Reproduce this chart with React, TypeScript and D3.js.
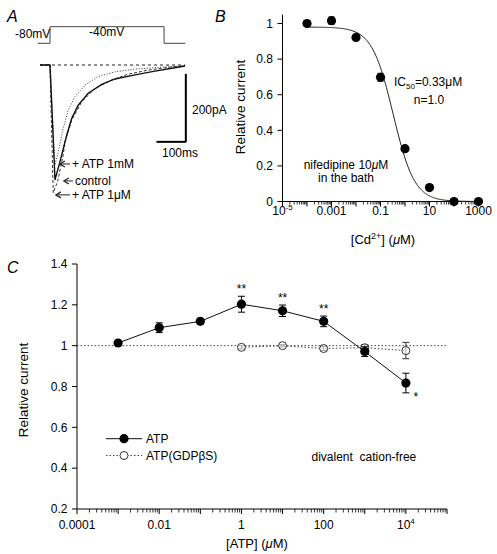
import React from 'react';
import * as d3 from 'd3';

const FONT = '"Liberation Sans", Arial, Helvetica, sans-serif';

// ---------- Panel A: voltage protocol and current traces (time ms, current pA) ----------
const protocol: [number, number][] = [[-42, -80], [0, -80], [0, -40], [388, -40], [388, -80], [460, -80]];
const traceControl: [number, number][] = [[-34, 0], [0, 0], [17, -338], [34, -284], [57, -206], [74, -157], [96, -118], [130, -83], [176, -57], [221, -41], [289, -29], [357, -18], [425, -8], [459, -3]];
const traceAtp1uM: [number, number][] = [[-34, 0], [0, 0], [11, -376], [26, -342], [45, -265], [51, -226], [74, -162], [108, -108], [153, -69], [210, -44], [266, -27], [334, -15], [402, -7], [459, -2]];
const traceAtp1mM: [number, number][] = [[-34, 0], [0, 0], [17, -294], [28, -255], [45, -186], [62, -132], [85, -93], [119, -59], [164, -34], [221, -20], [289, -12], [357, -8], [459, -2]];
const traceLabels = ['+ ATP 1mM', 'control', '+ ATP 1\u03bcM'];

// ---------- Panel B: Cd2+ dose-response ----------
const cdConc = [1e-4, 1e-3, 1e-2, 1e-1, 1, 10, 100, 1000];
const cdCurrent = [1.0, 1.016, 0.922, 0.698, 0.297, 0.078, 0, 0];
const cdErr = [0.008, 0.02, 0.01, 0.022, 0.012, 0.008, 0, 0];
const hillTop = 0.98;
const hillIC50 = 0.33;
const hillN = 1.0;
const cdXTicks = [1e-5, 1e-3, 1e-1, 10, 1000];
const cdYTicks = [0, 0.2, 0.4, 0.6, 0.8, 1];

// ---------- Panel C: ATP ----------
const atpConc = [1e-3, 1e-2, 1e-1, 1, 10, 100, 1e3, 1e4];
const atpCurrent = [1.013, 1.088, 1.119, 1.203, 1.171, 1.119, 0.971, 0.817];
const atpErr = [0.008, 0.024, 0.01, 0.039, 0.028, 0.026, 0.024, 0.048];
const atpSig = ['', '', '', '**', '**', '**', '', '*'];
const gdpConc = [1, 10, 100, 1e3, 1e4];
const gdpCurrent = [0.992, 1.0, 0.986, 0.99, 0.976];
const gdpErr = [0.008, 0.006, 0.01, 0.015, 0.04];
const atpXTicks = [1e-4, 1e-2, 1, 100, 1e4];
const atpYTicks = [0.2, 0.4, 0.6, 0.8, 1, 1.2, 1.4];

function minorTicks(lo: number, hi: number) {
  const out: number[] = [];
  for (let d = lo; d < hi; d++) for (let m = 2; m <= 9; m++) out.push(m * Math.pow(10, d));
  return out;
}

function fmtY(v: number) {
  return String(+v.toFixed(1));
}

function logLabel(v: number, x: number, y: number, key: any) {
  const e = Math.round(Math.log10(v));
  if (e === -5 || e === 4) {
    return (
      <text key={key} x={x} y={y} textAnchor="middle" fontSize={12}>
        10<tspan fontSize={8} dy={-5}>{e}</tspan>
      </text>
    );
  }
  const s = e < 0 ? v.toFixed(-e) : String(v);
  return (
    <text key={key} x={x} y={y} textAnchor="middle" fontSize={12}>{s}</text>
  );
}

export default function App() {
  // Panel A scales
  const xA = d3.scaleLinear().domain([0, 100]).range([50, 79.4]);
  const yA = d3.scaleLinear().domain([0, -200]).range([65, 133]);
  const yV = d3.scaleLinear().domain([-80, -40]).range([43.3, 26.7]);
  const lineA = d3.line<[number, number]>().x(d => xA(d[0])).y(d => yA(d[1]));
  const lineV = d3.line<[number, number]>().x(d => xA(d[0])).y(d => yV(d[1]));

  // Panel B scales
  const xB = d3.scaleLog().domain([1e-5, 1e3]).range([282.5, 478.5]);
  const yB = d3.scaleLinear().domain([0, 1]).range([201.5, 23.5]);
  const hillX = d3.range(-4, 3.0001, 0.04).map(l => Math.pow(10, l));
  const hillLine = d3.line<number>()
    .x(c => xB(c))
    .y(c => yB(hillTop / (1 + Math.pow(c / hillIC50, hillN))))
    .curve(d3.curveLinear);

  // Panel C scales
  const xC = d3.scaleLog().domain([1e-4, 1e5]).range([77, 447]);
  const yC = d3.scaleLinear().domain([0.2, 1.4]).range([509, 264]);
  const atpLine = d3.line<number>().x((_, i) => xC(atpConc[i])).y(v => yC(v));
  const gdpLine = d3.line<number>().x((_, i) => xC(gdpConc[i])).y(v => yC(v));

  const arrowYs = [-291, -341, -382];
  const arrowTips = [34, 47, 20];
  const arrowTails = [68, 78, 68];

  return (
    <svg width={497} height={554} style={{ position: 'absolute', left: 0, top: 0, background: '#fff' }} fontFamily={FONT}>
      {/* ===== Panel A ===== */}
      <text x={7} y={21.5} fontSize={16} fontStyle="italic">A</text>
      <path d={lineV(protocol) || ''} fill="none" stroke="#444" strokeWidth={1} />
      <text x={15} y={37.5} fontSize={12}>-80mV</text>
      <text x={89} y={36} fontSize={12}>-40mV</text>
      <line x1={xA(-34)} x2={xA(460)} y1={yA(0)} y2={yA(0)} stroke="#222" strokeWidth={1} strokeDasharray="3,3" />
      <path d={lineA(traceAtp1mM) || ''} fill="none" stroke="#555" strokeWidth={1} strokeDasharray="1.2,1.5" />
      <path d={lineA(traceAtp1uM) || ''} fill="none" stroke="#333" strokeWidth={1} strokeDasharray="3,2" />
      <path d={lineA(traceControl) || ''} fill="none" stroke="#111" strokeWidth={1.4} />
      {traceLabels.map((t, i) => {
        const y = yA(arrowYs[i]);
        const tip = xA(arrowTips[i]);
        const tail = xA(arrowTails[i]);
        return (
          <g key={t}>
            <line x1={tip} x2={tail} y1={y} y2={y} stroke="#222" strokeWidth={1} />
            <path d={`M${tip + 5},${y - 3} L${tip},${y} L${tip + 5},${y + 3}`} fill="none" stroke="#222" strokeWidth={1.2} />
            <text x={tail + 2} y={y + 4.3} fontSize={12}>{t}</text>
          </g>
        );
      })}
      {/* scale bars */}
      <line x1={xA(362)} x2={xA(462)} y1={yA(-226)} y2={yA(-226)} stroke="#000" strokeWidth={2} />
      <line x1={xA(462)} x2={xA(462)} y1={yA(-26)} y2={yA(-227)} stroke="#000" strokeWidth={2} />
      <text x={192} y={114} fontSize={12}>200pA</text>
      <text x={180} y={157} fontSize={12} textAnchor="middle">100ms</text>

      {/* ===== Panel B ===== */}
      <text x={215} y={21.5} fontSize={16} fontStyle="italic">B</text>
      <line x1={xB(1e-5)} x2={xB(1e-5)} y1={yB(0)} y2={yB(1.05)} stroke="#000" strokeWidth={1} />
      <line x1={xB(1e-5)} x2={xB(1e3)} y1={yB(0)} y2={yB(0)} stroke="#000" strokeWidth={1} />
      {cdYTicks.map(v => (
        <g key={'by' + v}>
          <line x1={xB(1e-5) - 5} x2={xB(1e-5)} y1={yB(v)} y2={yB(v)} stroke="#000" />
          <text x={273} y={yB(v) + 4.2} fontSize={12} textAnchor="end">{fmtY(v)}</text>
        </g>
      ))}
      {d3.range(-5, 4).map(e => (
        <line key={'bM' + e} x1={xB(Math.pow(10, e))} x2={xB(Math.pow(10, e))} y1={yB(0)} y2={yB(0) + 5} stroke="#000" />
      ))}
      {minorTicks(-5, 3).map((v, i) => (
        <line key={'bm' + i} x1={xB(v)} x2={xB(v)} y1={yB(0)} y2={yB(0) + 3} stroke="#000" strokeWidth={0.8} />
      ))}
      {cdXTicks.map((v, i) => logLabel(v, xB(v), 215, 'bx' + i))}
      <text x={383} y={244} fontSize={13} textAnchor="middle">
        [Cd<tspan fontSize={9} dy={-5}>2+</tspan><tspan dy={5}>] (</tspan><tspan fontStyle="italic">{'\u03bc'}</tspan>M)
      </text>
      <text transform={`translate(245,107) rotate(-90)`} fontSize={13.5} textAnchor="middle">Relative current</text>
      <path d={hillLine(hillX) || ''} fill="none" stroke="#222" strokeWidth={1} />
      {cdConc.map((c, i) => (
        <g key={'bp' + i}>
          {cdErr[i] > 0 && (
            <g stroke="#000" strokeWidth={1}>
              <line x1={xB(c)} x2={xB(c)} y1={yB(cdCurrent[i] - cdErr[i])} y2={yB(cdCurrent[i] + cdErr[i])} />
              <line x1={xB(c) - 3} x2={xB(c) + 3} y1={yB(cdCurrent[i] + cdErr[i])} y2={yB(cdCurrent[i] + cdErr[i])} />
              <line x1={xB(c) - 3} x2={xB(c) + 3} y1={yB(cdCurrent[i] - cdErr[i])} y2={yB(cdCurrent[i] - cdErr[i])} />
            </g>
          )}
          <circle cx={xB(c)} cy={yB(cdCurrent[i])} r={4.6} fill="#000" />
        </g>
      ))}
      <text x={394} y={86} fontSize={12}>
        IC<tspan fontSize={8} dy={3}>50</tspan><tspan dy={-3}>=0.33{'\u03bc'}M</tspan>
      </text>
      <text x={429} y={104} fontSize={12} textAnchor="middle">n=1.0</text>
      <text x={346} y={168.5} fontSize={12} textAnchor="middle">nifedipine 10<tspan fontStyle="italic">{'\u03bc'}</tspan>M</text>
      <text x={346} y={181.5} fontSize={12} textAnchor="middle">in the bath</text>

      {/* ===== Panel C ===== */}
      <text x={7} y={273} fontSize={16} fontStyle="italic">C</text>
      <line x1={xC(1e-4)} x2={xC(1e-4)} y1={yC(0.2)} y2={yC(1.4)} stroke="#000" strokeWidth={1} />
      <line x1={xC(1e-4)} x2={xC(1e5)} y1={yC(0.2)} y2={yC(0.2)} stroke="#000" strokeWidth={1} />
      {atpYTicks.map(v => (
        <g key={'cy' + v}>
          <line x1={xC(1e-4) - 5} x2={xC(1e-4)} y1={yC(v)} y2={yC(v)} stroke="#000" />
          <text x={67.5} y={yC(v) + 4.2} fontSize={12} textAnchor="end">{fmtY(v)}</text>
        </g>
      ))}
      {d3.range(-4, 6).map(e => (
        <line key={'cM' + e} x1={xC(Math.pow(10, e))} x2={xC(Math.pow(10, e))} y1={yC(0.2)} y2={yC(0.2) + 5} stroke="#000" />
      ))}
      {minorTicks(-4, 5).map((v, i) => (
        <line key={'cm' + i} x1={xC(v)} x2={xC(v)} y1={yC(0.2)} y2={yC(0.2) + 3.5} stroke="#000" strokeWidth={0.8} />
      ))}
      {atpXTicks.map((v, i) => logLabel(v, xC(v), 529, 'cx' + i))}
      <text x={257} y={548} fontSize={13} textAnchor="middle">
        [ATP] (<tspan fontStyle="italic">{'\u03bc'}</tspan>M)
      </text>
      <text transform={`translate(27.5,390) rotate(-90)`} fontSize={13.5} textAnchor="middle">Relative current</text>

      {/* reference line at 1 */}
      <line x1={xC(1e-4)} x2={xC(1e5)} y1={yC(1)} y2={yC(1)} stroke="#444" strokeWidth={1} strokeDasharray="1.5,2" />
      {/* GDPbS series */}
      <path d={gdpLine(gdpCurrent) || ''} fill="none" stroke="#444" strokeWidth={1} strokeDasharray="1.5,2" />
      {gdpConc.map((c, i) => (
        <g key={'gp' + i} stroke="#333" strokeWidth={1}>
          <line x1={xC(c)} x2={xC(c)} y1={yC(gdpCurrent[i] - gdpErr[i])} y2={yC(gdpCurrent[i] + gdpErr[i])} />
          <line x1={xC(c) - 3.5} x2={xC(c) + 3.5} y1={yC(gdpCurrent[i] + gdpErr[i])} y2={yC(gdpCurrent[i] + gdpErr[i])} />
          <line x1={xC(c) - 3.5} x2={xC(c) + 3.5} y1={yC(gdpCurrent[i] - gdpErr[i])} y2={yC(gdpCurrent[i] - gdpErr[i])} />
          <circle cx={xC(c)} cy={yC(gdpCurrent[i])} r={4} fill="#fff" fillOpacity={0.6} />
        </g>
      ))}
      {/* ATP series */}
      <path d={atpLine(atpCurrent) || ''} fill="none" stroke="#111" strokeWidth={1} />
      {atpConc.map((c, i) => (
        <g key={'ap' + i}>
          <g stroke="#000" strokeWidth={1}>
            <line x1={xC(c)} x2={xC(c)} y1={yC(atpCurrent[i] - atpErr[i])} y2={yC(atpCurrent[i] + atpErr[i])} />
            <line x1={xC(c) - 3.5} x2={xC(c) + 3.5} y1={yC(atpCurrent[i] + atpErr[i])} y2={yC(atpCurrent[i] + atpErr[i])} />
            <line x1={xC(c) - 3.5} x2={xC(c) + 3.5} y1={yC(atpCurrent[i] - atpErr[i])} y2={yC(atpCurrent[i] - atpErr[i])} />
          </g>
          <circle cx={xC(c)} cy={yC(atpCurrent[i])} r={4.6} fill="#000" />
          {atpSig[i] === '**' && (
            <text x={xC(c)} y={yC(atpCurrent[i] + atpErr[i]) - 3} fontSize={12} textAnchor="middle">**</text>
          )}
          {atpSig[i] === '*' && (
            <text x={xC(c) + 10} y={yC(atpCurrent[i]) + 18} fontSize={12} textAnchor="middle">*</text>
          )}
        </g>
      ))}
      {/* legend */}
      <line x1={106} x2={142} y1={438.7} y2={438.7} stroke="#111" strokeWidth={1} />
      <circle cx={124} cy={438.7} r={4.6} fill="#000" />
      <text x={146} y={443} fontSize={12}>ATP</text>
      <line x1={106} x2={142} y1={455.5} y2={455.5} stroke="#444" strokeWidth={1} strokeDasharray="1.5,2" />
      <circle cx={124} cy={455.5} r={4} fill="#fff" stroke="#333" strokeWidth={1} />
      <text x={146} y={460} fontSize={12}>ATP(GDP{'\u03b2'}S)</text>
      <text x={311.5} y={461} fontSize={12} style={{ whiteSpace: 'pre' }}>{'divalent  cation-free'}</text>
    </svg>
  );
}
